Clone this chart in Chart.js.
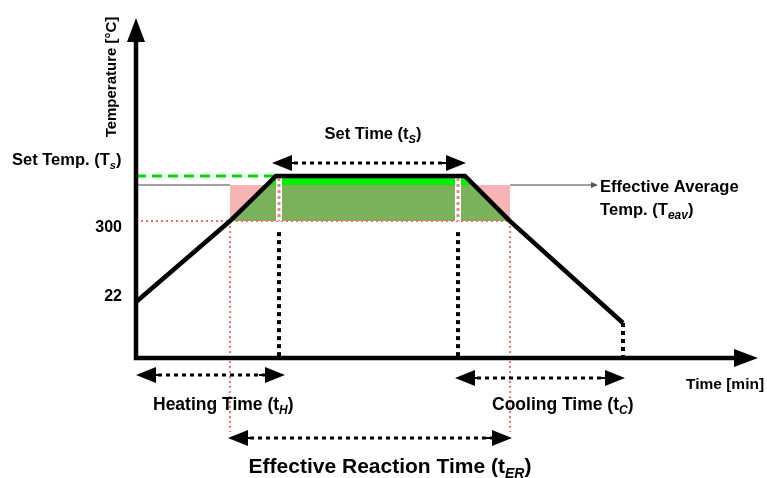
<!DOCTYPE html>
<html>
<head>
<meta charset="utf-8">
<script src="https://cdn.jsdelivr.net/npm/chart.js@4"></script>
<style>
  body { margin: 0; background: #fff; }
  canvas { display: block; }
</style>
</head>
<body>
<canvas id="myChart" width="767" height="478"></canvas>
<script>
// temperature profile (x = time units, y = °C)
const profileX = [0, 18.8, 28, 65.8, 74.8, 97.4];
const profileY = [22, 300, 455, 455, 300, -50];

// effective zone above 300 °C and below T_eav
const greenX = [18.8, 26.2, 67.6, 74.8];
const greenY = [300, 424, 424, 300];
// zone above T_eav up to T_s
const topX = [26.2, 28, 65.8, 67.6];
const topY = [424, 455, 455, 424];

const setTemp = 455;
const avgTemp = 424;
const reactTemp = 300;
const heatEnd = 28.6;
const setEnd = 64.4;
const coolEnd = 97.4;
const reactStart = 18.8;
const reactEnd = 74.8;

const yTicks = [22, 300];
const yTickLabels = ["22", "300"];

// double arrows: [from, to, level]
const spans = [
  [27.2, 66, 499],
  [0, 29.8, -228],
  [63.8, 97.8, -239],
  [18.4, 75.2, -445]
];

const graph = document.querySelector("#myChart");
const FONT = "'Liberation Sans', Arial, sans-serif";

function pts(xs, ys) {
  return xs.map((x, i) => ({ x: x, y: ys[i] }));
}

function linea(data, color, width, dash, order) {
  return {
    data: data,
    showLine: true,
    borderColor: color,
    borderWidth: width,
    borderDash: dash || [],
    pointRadius: 0,
    fill: false,
    clip: false,
    order: order
  };
}

function area(data, color, base, order) {
  return {
    data: data,
    showLine: true,
    borderWidth: 0,
    borderColor: color,
    backgroundColor: color,
    pointRadius: 0,
    fill: { value: base },
    order: order
  };
}

const datasets = [
  area(pts([reactStart, 28], [avgTemp, avgTemp]), "#f6b4b4", reactTemp, 30),
  area(pts([setEnd, reactEnd], [avgTemp, avgTemp]), "#f6b4b4", reactTemp, 30),
  area(pts(greenX, greenY), "#79b25a", reactTemp, 28),
  area(pts(topX, topY), "#00ee00", avgTemp, 27),
  linea(pts([0, reactEnd], [reactTemp, reactTemp]), "#f46a6a", 2, [2, 3], 26),
  linea(pts([heatEnd, heatEnd], [448, reactTemp]), "#ffffff", 6, [], 25),
  linea(pts([setEnd, setEnd], [448, reactTemp]), "#ffffff", 6, [], 25),
  linea(pts([heatEnd, heatEnd], [448, reactTemp]), "#dc8c8c", 3, [3, 3], 24),
  linea(pts([setEnd, setEnd], [448, reactTemp]), "#dc8c8c", 3, [3, 3], 24),
  linea(pts([0, reactStart], [avgTemp, avgTemp]), "#808080", 1.5, [], 23),
  linea(pts([reactEnd, 91.6], [avgTemp, avgTemp]), "#808080", 1.5, [], 23),
  linea(pts([0, 28], [setTemp, setTemp]), "#00dd00", 3, [10, 6], 22),
  linea(pts([reactStart, reactStart], [reactTemp, -424]), "#f04848", 1.5, [2, 3], 21),
  linea(pts([reactEnd, reactEnd], [reactTemp, -424]), "#f04848", 1.5, [2, 3], 21),
  linea(pts([heatEnd, heatEnd], [262, -170]), "#000000", 4, [4, 4], 20),
  linea(pts([setEnd, setEnd], [262, -170]), "#000000", 4, [4, 4], 20),
  linea(pts([coolEnd, coolEnd], [-50, -170]), "#000000", 4, [4, 4], 20),
  linea(pts(profileX, profileY), "#000000", 4.5, [], 1)
];

function flecha(ctx, x, y, dir, len, half) {
  ctx.beginPath();
  ctx.moveTo(x, y);
  ctx.lineTo(x - dir * len, y - half);
  ctx.lineTo(x - dir * len, y + half);
  ctx.closePath();
  ctx.fill();
}

function texto(ctx, parts, x, y, align) {
  let w = 0;
  parts.forEach(p => { ctx.font = p[1]; w += ctx.measureText(p[0]).width; });
  let cx = align === "center" ? x - w / 2 : (align === "right" ? x - w : x);
  parts.forEach(p => {
    ctx.font = p[1];
    ctx.fillText(p[0], cx, y + (p[2] || 0));
    cx += ctx.measureText(p[0]).width;
  });
}

const dibujo = {
  id: "dibujo",
  afterDatasetsDraw(chart) {
    const ctx = chart.ctx;
    const xs = chart.scales.x, ys = chart.scales.y;
    const px = v => xs.getPixelForValue(v);
    const py = v => ys.getPixelForValue(v);
    const a = chart.chartArea;
    ctx.save();
    ctx.fillStyle = "#000";
    ctx.strokeStyle = "#000";

    // axes
    ctx.lineWidth = 4.5;
    ctx.beginPath();
    ctx.moveTo(a.left, a.top + 18);
    ctx.lineTo(a.left, a.bottom);
    ctx.lineTo(a.right - 18, a.bottom);
    ctx.stroke();
    ctx.beginPath();
    ctx.moveTo(a.left, a.top);
    ctx.lineTo(a.left - 9, a.top + 24);
    ctx.lineTo(a.left + 9, a.top + 24);
    ctx.closePath();
    ctx.fill();
    flecha(ctx, a.right + 3, a.bottom, 1, 24, 9);

    // small arrow head of T_eav pointer
    ctx.fillStyle = "#555";
    flecha(ctx, px(91.6) + 4, py(avgTemp), 1, 7, 3);
    ctx.fillStyle = "#000";

    // double arrows
    spans.forEach(s => {
      const x1 = px(s[0]), x2 = px(s[1]), y = py(s[2]);
      ctx.lineWidth = 3;
      ctx.setLineDash([4, 4]);
      ctx.beginPath();
      ctx.moveTo(x1 + 14, y);
      ctx.lineTo(x2 - 14, y);
      ctx.stroke();
      ctx.setLineDash([]);
      ctx.lineWidth = 2;
      ctx.beginPath();
      ctx.moveTo(x1 + 12, y); ctx.lineTo(x1 + 26, y);
      ctx.moveTo(x2 - 26, y); ctx.lineTo(x2 - 12, y);
      ctx.stroke();
      flecha(ctx, x1, y, -1, 20, 8);
      flecha(ctx, x2, y, 1, 20, 8);
    });

    // tick labels
    const tickShift = [-5, 7];
    ctx.textBaseline = "middle";
    ctx.font = "bold 16px " + FONT;
    ctx.textAlign = "right";
    yTicks.forEach((t, i) => {
      ctx.fillText(yTickLabels[i], a.left - 14, py(t) + tickShift[i]);
    });

    ctx.textAlign = "left";
    ctx.textBaseline = "alphabetic";
    const B16 = "bold 16.5px " + FONT;
    const S = "italic bold 11px " + FONT;

    // y axis title
    ctx.save();
    ctx.translate(a.left - 20, 77);
    ctx.rotate(-Math.PI / 2);
    ctx.font = "bold 15px " + FONT;
    ctx.textAlign = "center";
    ctx.fillText("Temperature [°C]", 0, 0);
    ctx.restore();

    texto(ctx, [["Set Temp. (T", B16], ["s", S, 4], [")", B16]], 12, 165, "left");
    texto(ctx, [["Set Time (t", B16], ["S", S, 4], [")", B16]], 373, 139, "center");
    const B17 = "bold 16.6px " + FONT;
    texto(ctx, [["Effective Average", B17]], 600, 192, "left");
    texto(ctx, [["Temp. (T", B17], ["eav", "italic bold 12px " + FONT, 4], [")", B17]], 600, 215, "left");
    texto(ctx, [["Time [min]", "bold 15.5px " + FONT]], 686, 389, "left");
    const B18 = "bold 17.5px " + FONT;
    const S12 = "italic bold 12px " + FONT;
    texto(ctx, [["Heating Time (t", B18], ["H", S12, 4], [")", B18]], 153, 410, "left");
    texto(ctx, [["Cooling Time (t", B18], ["C", S12, 4], [")", B18]], 492, 410, "left");
    const B21 = "bold 21px " + FONT;
    texto(ctx, [["Effective Reaction Time (t", B21], ["ER", "italic bold 14px " + FONT, 5], [")", B21]], 390, 473, "center");
    ctx.restore();
  }
};

let myChart = new Chart(graph, {
  type: "scatter",
  data: { datasets: datasets },
  options: {
    responsive: false,
    animation: false,
    layout: { padding: { left: 136, right: 12, top: 18, bottom: 120 } },
    plugins: { legend: { display: false }, tooltip: { enabled: false } },
    scales: {
      x: { type: "linear", min: 0, max: 123.8, display: false },
      y: { type: "linear", min: -170, max: 997, display: false }
    }
  },
  plugins: [dibujo]
});
</script>
</body>
</html>
